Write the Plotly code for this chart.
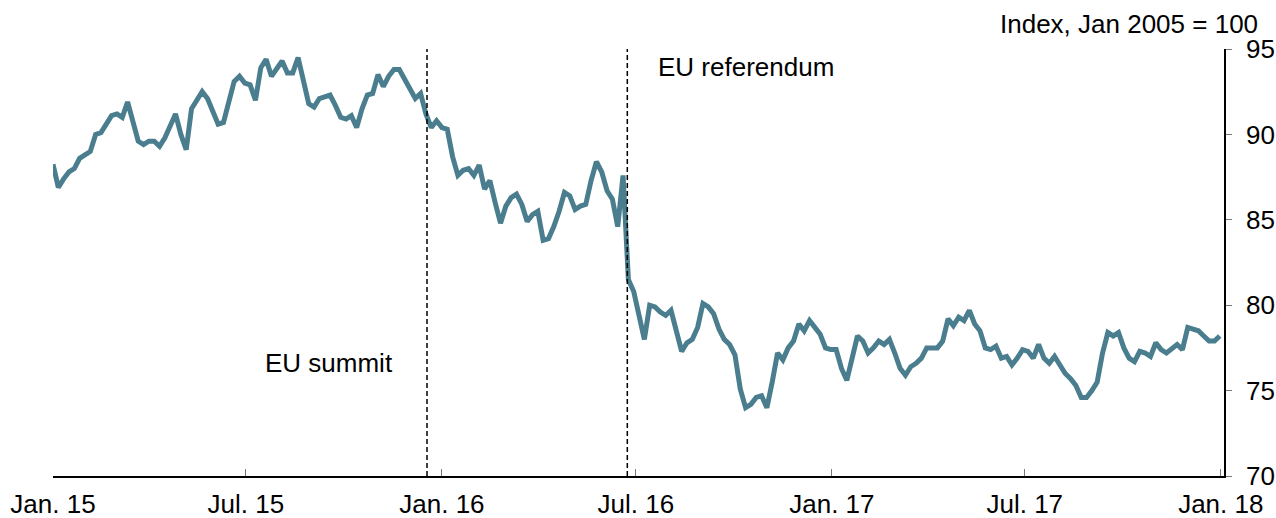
import pandas as pd
import plotly.graph_objects as go

# Series sampled every 5 days from 2015-01-01 (index, Jan 2005 = 100)
start_date = "2015-01-01"
step = "5D"
index_values = [
    88.25, 86.9, 87.4, 87.8, 88.0, 88.6, 88.8, 89.0, 90.0, 90.1,
    90.6, 91.1, 91.2, 91.0, 91.9, 90.6, 89.6, 89.4, 89.6, 89.6,
    89.3, 89.8, 90.6, 91.2, 90.0, 89.1, 91.5, 92.0, 92.5, 92.1,
    91.4, 90.6, 90.7, 91.8, 93.1, 93.4, 93.0, 92.9, 92.0, 93.9,
    94.4, 93.4, 93.8, 94.3, 93.6, 93.6, 94.5, 93.0, 91.8, 91.6,
    92.1, 92.2, 92.3, 91.7, 91.0, 90.9, 91.1, 90.4, 91.5, 92.3,
    92.4, 93.5, 92.8, 93.4, 93.8, 93.8, 93.2, 92.6, 92.1, 92.4,
    91.2, 90.4, 90.8, 90.4, 90.3, 88.7, 87.6, 87.9, 88.0, 87.6,
    88.2, 86.8, 87.3, 86.0, 84.8, 85.8, 86.3, 86.5, 85.9, 84.9,
    85.3, 85.5, 83.8, 83.9, 84.6, 85.5, 86.6, 86.4, 85.6, 85.8,
    85.9, 87.3, 88.4, 87.8, 86.7, 86.2, 84.6, 87.6, 81.5, 80.8,
    79.5, 78.0, 80.0, 79.9, 79.6, 79.4, 79.7, 78.5, 77.3, 77.8,
    78.0, 78.7, 80.1, 79.9, 79.5, 78.6, 78.0, 77.7, 77.1, 75.1,
    74.0, 74.2, 74.6, 74.7, 74.0, 75.5, 77.2, 76.8, 77.5, 77.9,
    78.9, 78.5, 79.1, 78.7, 78.3, 77.5, 77.4, 77.4, 76.3, 75.6,
    76.9, 78.2, 77.9, 77.2, 77.5, 77.9, 77.7, 78.0, 77.2, 76.3,
    75.9, 76.4, 76.6, 76.9, 77.5, 77.5, 77.5, 77.9, 79.2, 78.8,
    79.3, 79.1, 79.7, 78.9, 78.5, 77.5, 77.4, 77.6, 76.9, 77.0,
    76.5, 76.9, 77.4, 77.3, 76.9, 77.7, 76.9, 76.6, 77.0, 76.5,
    76.0, 75.7, 75.3, 74.6, 74.6, 75.0, 75.5, 77.2, 78.4, 78.2,
    78.4, 77.5, 76.9, 76.7, 77.3, 77.2, 77.0, 77.8, 77.4, 77.2,
    77.5, 77.7, 77.4, 78.7, 78.6, 78.5, 78.2, 77.9, 77.9, 78.2,
]
dates = pd.date_range(start_date, periods=len(index_values), freq=step)

tick_dates = ["2015-01-01", "2015-07-01", "2016-01-01", "2016-07-01",
              "2017-01-01", "2017-07-01", "2018-01-01"]
tick_labels = ["Jan. 15", "Jul. 15", "Jan. 16", "Jul. 16",
               "Jan. 17", "Jul. 17", "Jan. 18"]
y_ticks = [70, 75, 80, 85, 90, 95]

event_dates = ["2015-12-18", "2016-06-23"]
event_labels = ["EU summit", "EU referendum"]
label_dates = ["2015-09-17", "2016-07-20"]
label_values = [76.6, 93.95]
label_anchor = ["center", "left"]

FONT = "Liberation Sans, Arial, sans-serif"
LINE_COLOR = "#4a7e8e"

fig = go.Figure()
fig.add_trace(go.Scatter(
    x=dates, y=index_values, mode="lines",
    line=dict(color=LINE_COLOR, width=5),
    showlegend=False, hoverinfo="skip",
))

for d in event_dates:
    fig.add_shape(type="line", xref="x", yref="paper", x0=d, x1=d, y0=0, y1=1,
                  line=dict(color="black", width=1.5, dash="5px,3px"))

for txt, d, v, a in zip(event_labels, label_dates, label_values, label_anchor):
    fig.add_annotation(x=d, y=v, xref="x", yref="y", text=txt, showarrow=False,
                       xanchor=a, yanchor="middle",
                       font=dict(family=FONT, size=26, color="black"))

fig.add_annotation(xref="paper", yref="paper", x=1.0307, y=1.059,
                   text="Index, Jan 2005 = 100", showarrow=False,
                   xanchor="right", yanchor="middle",
                   font=dict(family=FONT, size=26, color="black"))

fig.update_layout(
    width=1276, height=518,
    margin=dict(l=53, r=52, t=49, b=42, autoexpand=False),
    paper_bgcolor="white", plot_bgcolor="white",
    font=dict(family=FONT, size=26, color="black"),
    xaxis=dict(
        type="date", range=["2015-01-01", "2018-01-04"],
        tickvals=tick_dates, ticktext=tick_labels,
        ticks="inside", ticklen=7, tickcolor="#777777", tickwidth=1,
        showline=True, linecolor="black", linewidth=1.5,
        showgrid=False, zeroline=False, automargin=False,
        ticklabelstandoff=4,
        tickfont=dict(family=FONT, size=26, color="black"),
    ),
    yaxis=dict(
        side="right", range=[70, 95], tickvals=y_ticks,
        ticks="outside", ticklen=6, tickcolor="#777777", tickwidth=1,
        showline=True, linecolor="black", linewidth=1.5,
        showgrid=False, zeroline=False, automargin=False,
        ticklabelstandoff=9,
        tickfont=dict(family=FONT, size=26, color="black"),
    ),
)

fig.write_html(
    "out.html",
    config={"displayModeBar": False},
    post_script="document.body.style.margin='0';document.body.style.overflow='hidden';",
)
